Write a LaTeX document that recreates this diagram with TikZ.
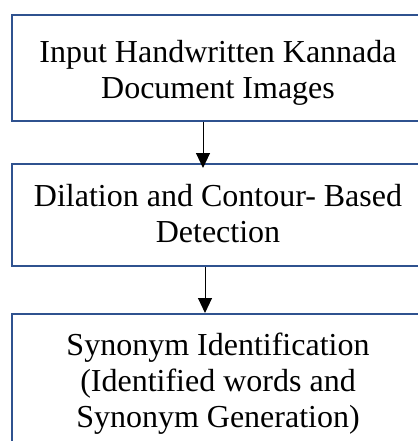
\documentclass[tikz,border=0pt]{standalone}
\usepackage{fontspec}
\setmainfont{Liberation Serif}
\usetikzlibrary{arrows.meta}
\definecolor{boxblue}{RGB}{47,82,143}
\tikzset{
  box/.style={draw=boxblue, line width=2pt, fill=white, minimum width=418pt, inner sep=0pt},
  txt/.style={align=center, font=\fontsize{32}{36}\selectfont, inner sep=0pt},
  arr/.style={draw=black, line width=1pt, -{Triangle[width=14pt,length=15pt]}}
}
\begin{document}
\begin{tikzpicture}[x=1pt,y=1pt]
\useasboundingbox (0,0) rectangle (417,-441);
\node[box, minimum height=106pt] (b1) at (221,-68) {};
\node[box, minimum height=102pt] (b2) at (221,-215) {};
\node[box, minimum height=140pt] (b3) at (221,-384) {};
\node[txt] (t1) at (218,-72.9) {Input Handwritten Kannada\\Document Images};
\node[txt] (t2) at (218,-213.7) {Dilation and Contour- Based\\Detection};
\node[txt] (t3) at (218,-384) {Synonym Identification\\(Identified words and\\Synonym Generation)};
\coordinate (ax1) at (203,0);
\coordinate (ax2) at (205,0);
\draw[arr, shorten >=-5pt] (b1.south -| ax1) -- (b2.north -| ax1);
\draw[arr] (b2.south -| ax2) -- (b3.north -| ax2);
\end{tikzpicture}
\end{document}
